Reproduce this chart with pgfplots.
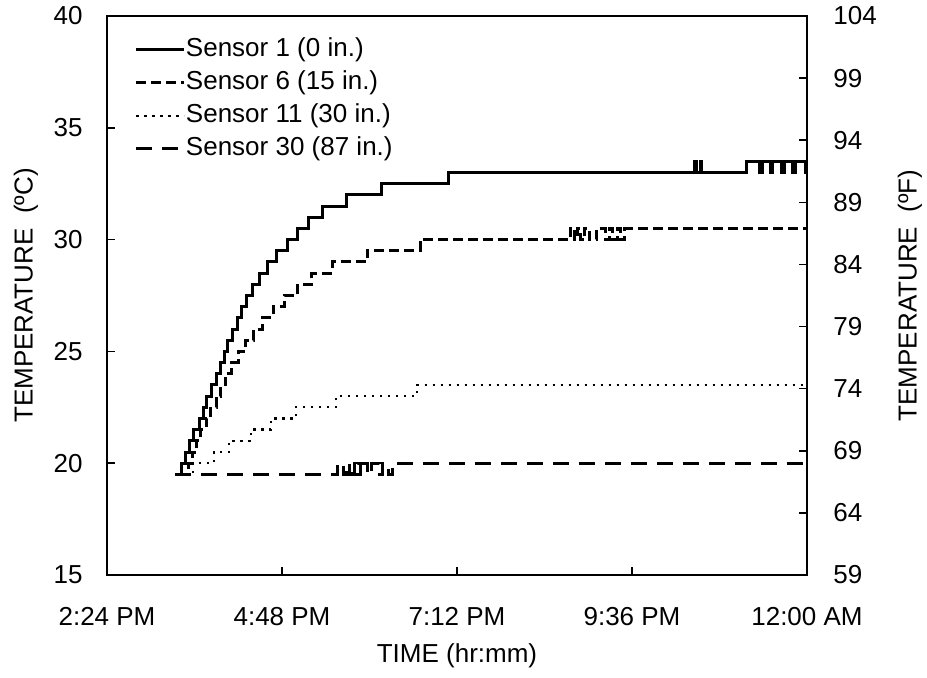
\documentclass[border=0pt]{standalone}
\usepackage{fontspec}
\setmainfont{Liberation Sans}
\usepackage{pgfplots}
\pgfplotsset{compat=1.18}
\newcommand{\chartfont}{\fontsize{13}{15.6}\selectfont}
\begin{document}
\begin{tikzpicture}
\path[use as bounding box] (-53.5pt,-51.5pt) rectangle (410pt,287.5pt);
\begin{axis}[
  scale only axis, width=350pt, height=279.5pt,
  xmin=14.4, xmax=24, ymin=15, ymax=40,
  xtick={14.4,16.8,19.2,21.6,24},
  xticklabels={2:24 PM,4:48 PM,7:12 PM,9:36 PM,12:00 AM},
  ytick={15,20,25,30,35,40},
  xtick pos=bottom, ytick pos=left,
  tick align=inside, major tick length=4pt,
  every tick/.style={black, line width=0.8pt},
  axis line style={line width=1.2pt},
  /pgf/number format/assume math mode=true,
  tick label style={font=\chartfont, inner sep=0pt},
  yticklabel shift=12pt,
  xticklabel shift=16pt,
  xlabel={TIME (hr:mm)},
  ylabel={TEMPERATURE\ \ (ºC)},
  every axis x label/.style={at={(axis description cs:0.5,-0.1449)}, anchor=center, font=\chartfont},
  every axis y label/.style={at={(axis description cs:-0.1157,0.5)}, rotate=90, anchor=center, font=\chartfont},
  legend style={at={(axis description cs:0.04,0.962)}, anchor=north west, draw=none, fill=none,
    inner sep=0pt, outer sep=0pt, row sep=4pt, font=\chartfont,
    nodes={inner sep=0pt, text height=9.5pt, text depth=3pt},
    /tikz/every even column/.append style={column sep=0.5pt}},
  legend cell align=left,
  legend image code/.code={\draw[#1] (0pt,0pt) -- (24pt,0pt);},
]
% Sensor 1 (0 in.)
\addplot[black, line width=1.5pt, const plot] coordinates {
(15.333,19.5)(15.415,20)(15.483,20.5)(15.538,21)(15.593,21.5)(15.662,22)(15.717,22.5)
(15.771,23)(15.840,23.5)(15.895,24)(15.950,24.5)(16.005,25)(16.059,25.5)(16.128,26)
(16.183,26.5)(16.251,27)(16.320,27.5)(16.402,28)(16.498,28.5)(16.608,29)(16.731,29.5)
(16.869,30)(17.006,30.5)(17.157,31)(17.362,31.5)(17.691,32)(18.171,32.5)(19.077,33)
(22.464,33.5)(22.488,33)(22.533,33.5)(22.557,33)(23.177,33.5)(23.355,33)(23.383,33.5)
(23.493,33)(23.521,33.5)(23.657,33)(23.685,33.5)(23.808,33)(23.836,33.5)(23.973,33)(24,33)
};
\addlegendentry{Sensor 1 (0 in.)}
% Sensor 6 (15 in.)
\addplot[black, line width=1.5pt, const plot, dash pattern=on 5pt off 2.5pt] coordinates {
(15.374,19.5)(15.511,20)(15.566,20.5)(15.634,21)(15.689,21.5)(15.758,22)(15.826,22.5)
(15.895,23)(15.963,23.5)(16.032,24)(16.114,24.5)(16.197,25)(16.306,25.5)(16.416,26)
(16.539,26.5)(16.677,27)(16.841,27.5)(17.019,28)(17.211,28.5)(17.486,29)(17.966,29.5)
(18.693,30)(20.763,30.5)(20.818,30)(20.846,30.5)(20.887,30)(20.955,30.5)(21.024,30)
(21.120,30.5)(21.230,30)(21.298,30.5)(21.339,30)(21.408,30.5)(21.449,30)(21.504,30.5)(24,30.5)
};
\addlegendentry{Sensor 6 (15 in.)}
% Sensor 11 (30 in.)
\addplot[black, line width=1.2pt, const plot, dash pattern=on 1.2pt off 2.8pt] coordinates {
(15.374,19.5)(15.579,20)(15.867,20.5)(16.073,21)(16.375,21.5)(16.649,22)(16.992,22.5)
(17.541,23)(18.651,23.5)(24,23.5)
};
\addlegendentry{Sensor 11 (30 in.)}
% Sensor 30 (87 in.)
\addplot[black, line width=1.5pt, const plot, dash pattern=on 8pt off 5pt] coordinates {
(15.333,19.5)(17.568,20)(17.637,19.5)(17.691,20)(17.719,19.5)(17.760,20)(17.801,19.5)
(17.829,20)(17.870,19.5)(17.897,20)(17.979,19.5)(18.034,20)(18.144,19.5)(18.185,20)
(18.254,19.5)(18.309,20)(24,20)
};
\addlegendentry{Sensor 30 (87 in.)}
\end{axis}
\begin{axis}[
  scale only axis, width=350pt, height=279.5pt,
  xmin=14.4, xmax=24, ymin=59, ymax=104,
  axis x line=none, axis y line*=right,
  ytick={59,64,69,74,79,84,89,94,99,104},
  tick align=inside, major tick length=4pt,
  every tick/.style={black, line width=0.8pt},
  axis line style={line width=1.2pt},
  /pgf/number format/assume math mode=true,
  tick label style={font=\chartfont, inner sep=0pt},
  yticklabel shift=13pt,
  ylabel={TEMPERATURE\ \ (ºF)},
  every axis y label/.style={at={(axis description cs:1.1471,0.5)}, rotate=90, anchor=center, font=\chartfont},
]
\end{axis}
\end{tikzpicture}
\end{document}
